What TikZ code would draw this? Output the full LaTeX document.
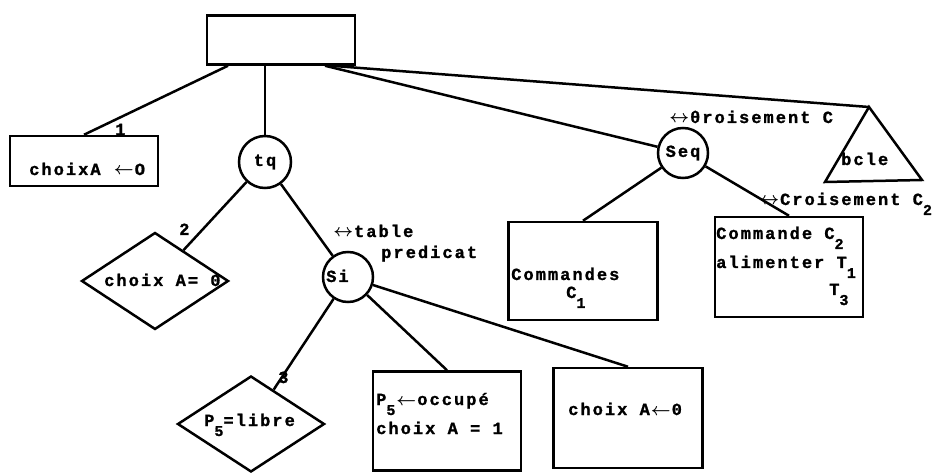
\documentclass[tikz,border=0pt]{standalone}
\usepackage{fontspec}
\usepackage{amsmath}
\newfontfamily\machine[LetterSpace=12, BoldFeatures={FakeBold=1.2}]{Liberation Mono}
\usetikzlibrary{shapes.geometric}
% indice tape a la machine : une demi-ligne plus bas
\newcommand\indbas[1]{\raisebox{-10pt}{\fontsize{15}{15}\selectfont#1}}
\newcommand\flg{\kern1pt$\boldsymbol{\leftarrow}$\kern1pt}
\newcommand\fldb{$\boldsymbol{\leftrightarrow}$\kern1pt}

\begin{document}
\begin{tikzpicture}[x=1pt, y=-1pt,
	every path/.style={line width=2.5pt},
	boite/.style={draw, rectangle, inner sep=0, minimum width=148,
				minimum height=99},
	noeud/.style={draw, circle, inner sep=0, minimum size=50,
				font=\machine\bfseries\fontsize{17}{20}\selectfont},
	losange/.style={draw, diamond, inner sep=0, minimum width=147,
				minimum height=97},
	texte/.style={inner sep=0, anchor=base west,
				font=\machine\bfseries\fontsize{17}{20}\selectfont}]
	\useasboundingbox (0,0) rectangle (938,473);

	% boites, tests et noeuds de l'arbre
	\node[boite, minimum height=49] (racine) at (281,40) {};
	\node[boite, minimum height=50] (init) at (84,161) {};
	\node[noeud, minimum size=52] (tq) at (265,162) {tq};
	\node[losange] (cond) at (155,281) {};
	\node[noeud] (si) at (348,277) {};
	\node[losange, minimum height=96] (libre) at (251,424) {};
	\node[boite] (occupe) at (447,421) {};
	\node[boite, minimum width=149, minimum height=100] (raz) at (628,418) {};
	\node[noeud] (seq) at (683,153) {Seq};
	\node[boite, minimum width=149, minimum height=98] (cmdun) at (583,271) {};
	\node[boite, minimum height=100] (cmddeux) at (789,267) {};
	\coordinate (boucle) at (869,107);
	\draw (boucle) -- (825,182) -- (922,180) -- cycle;

	% aretes
	\draw ([xshift=-53]racine.south) -- (init.north);
	\draw (racine.south -| tq.north) -- (tq.north);
	\draw ([xshift=44]racine.south) -- (seq);
	\draw ([xshift=50]racine.south) -- (boucle);
	\draw (tq) -- (cond);
	\draw (tq) -- (si);
	\draw (si) -- (libre);
	\draw (si) -- (occupe.north);
	\draw (si) -- (raz.north);
	\draw (seq) -- (cmdun.north);
	\draw (seq) -- (cmddeux.north);

	% textes
	\node[texte] (init-t) at (28,175) {choixA \flg O};
	\node[texte] (un) at (114,135) {1};
	\node[texte] (deux) at (178,235) {2};
	\node[texte] (trois) at (277,383) {3};
	\node[texte] (cond-t) at (103,286) {choix A= 0};
	\node[texte] (si-t) at (325,282) {Si};
	\node[texte] (table) at (332,237) {\fldb table};
	\node[texte] (pred) at (380,258) {predicat};
	\node[texte] (libre-t) at (203,426) {P\indbas{5}=libre};
	\node[texte] (occupe-t) at (375,405) {P\indbas{5}\flg occupé};
	\node[texte] (occupe-u) at (375,434) {choix A = 1};
	\node[texte] (raz-t) at (567,415) {choix A\flg 0};
	\node[texte] (crois-a) at (668,123) {\fldb θroisement C};
	\node[texte] (bcle) at (840,165) {bcle};
	\node[texte] (crois-b) at (758,205) {\fldb Croisement C\indbas{2}};
	\node[texte] (cmdun-a) at (510,280) {Commandes};
	\node[texte] (cmdun-b) at (565,298) {C\indbas{1}};
	\node[texte] (cmddeux-a) at (715,239) {Commande C\indbas{2}};
	\node[texte] (cmddeux-b) at (715,268) {alimenter T\indbas{1}};
	\node[texte] (cmddeux-c) at (828,295) {T\indbas{3}};
\end{tikzpicture}
\end{document}
